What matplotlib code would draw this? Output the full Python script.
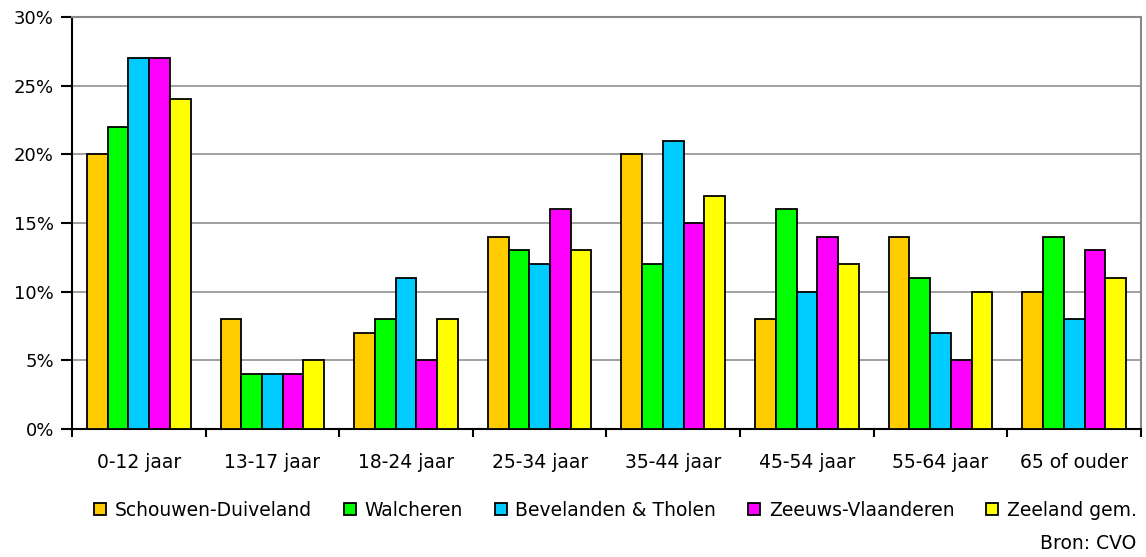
import numpy as np
import matplotlib
matplotlib.use('Agg')
import matplotlib.pyplot as plt
from matplotlib.ticker import PercentFormatter

# Age groups and share per region (%)
categories = ["0-12 jaar", "13-17 jaar", "18-24 jaar", "25-34 jaar",
              "35-44 jaar", "45-54 jaar", "55-64 jaar", "65 of ouder"]
series_names = ["Schouwen-Duiveland", "Walcheren", "Bevelanden & Tholen",
                "Zeeuws-Vlaanderen", "Zeeland gem."]
schouwen = [20, 8, 7, 14, 20, 8, 14, 10]
walcheren = [22, 4, 8, 13, 12, 16, 11, 14]
bevelanden = [27, 4, 11, 12, 21, 10, 7, 8]
zeeuws_vl = [27, 4, 5, 16, 15, 14, 5, 13]
zeeland = [24, 5, 8, 13, 17, 12, 10, 11]
colors = ["#FFCC00", "#00FF00", "#00CCFF", "#FF00FF", "#FFFF00"]

plt.rcParams['font.family'] = ['DejaVu Sans']
fs = 13.5

fig = plt.figure(figsize=(11.46, 5.57), dpi=100)
ax = fig.add_axes([0.0628, 0.2298, 0.9328, 0.7397])

x = np.arange(len(categories))
bar_w = 0.155
for i, (vals, name, col) in enumerate(zip(
        [schouwen, walcheren, bevelanden, zeeuws_vl, zeeland], series_names, colors)):
    ax.bar(x + (i - 2) * bar_w, vals, width=bar_w, color=col,
           edgecolor="black", linewidth=1.3, label=name, zorder=3)

ax.set_xlim(-0.5, len(categories) - 0.5)
ax.set_ylim(0, 30)
ax.set_yticks(range(0, 31, 5))
ax.yaxis.set_major_formatter(PercentFormatter(decimals=0))
# category boundaries get the tick marks, names sit between them
ax.set_xticks(np.arange(len(categories) + 1) - 0.5)
ax.set_xticklabels([])
ax.set_xticks(x, minor=True)
ax.set_xticklabels(categories, minor=True)
ax.tick_params(axis='x', which='minor', length=0, pad=17, labelsize=fs)
ax.tick_params(axis='x', which='major', length=6, width=1.5, direction='out')
ax.tick_params(axis='y', length=8, width=1.5, labelsize=13, pad=5)

ax.grid(axis='y', color='#999999', linewidth=1.3, zorder=0)
for s in ['left', 'bottom']:
    ax.spines[s].set_color('black')
    ax.spines[s].set_linewidth(1.5)
for s in ['top', 'right']:
    ax.spines[s].set_color('#888888')
    ax.spines[s].set_linewidth(1.5)

fig.legend(loc='center', bbox_to_anchor=(0.537, 0.084), ncol=5, frameon=False,
           fontsize=fs, handlelength=0.65, handleheight=0.65,
           handletextpad=0.45, columnspacing=1.7)
fig.text(1040 / 1146, 0.008, "Bron: CVO", fontsize=fs, ha='left', va='bottom')

fig.savefig("out.png", dpi=100)
